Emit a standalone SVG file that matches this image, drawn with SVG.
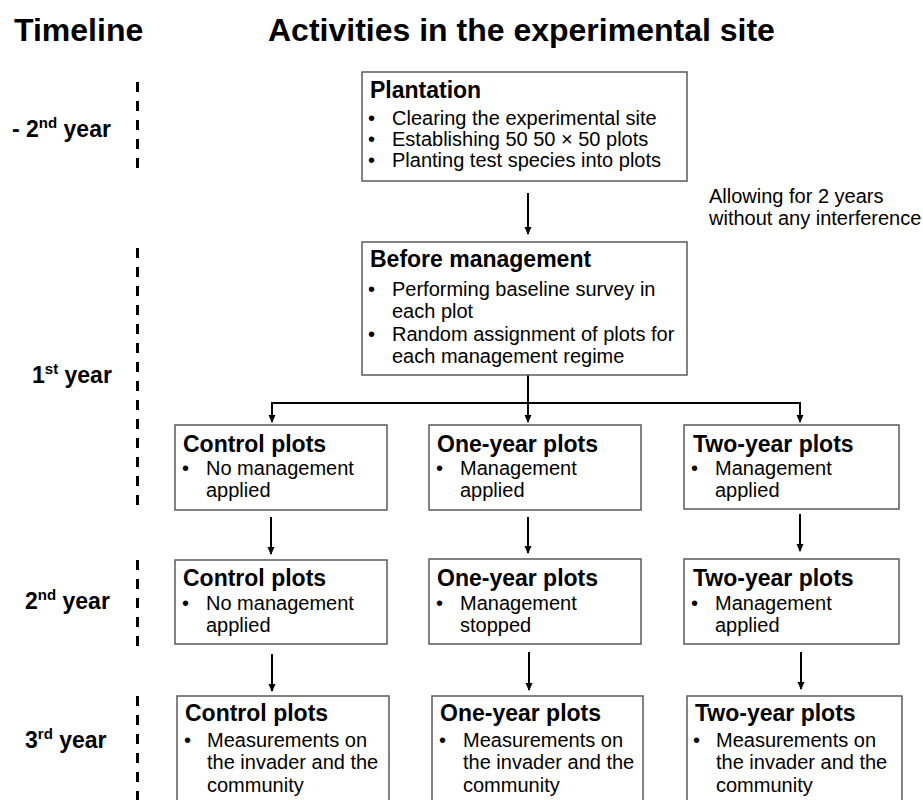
<svg xmlns="http://www.w3.org/2000/svg" width="923" height="800" viewBox="0 0 923 800">
<defs>
<style>
text{font-family:"Liberation Sans",Arial,sans-serif;fill:#000}
.hd{font-size:32px;font-weight:bold}
.yr{font-size:23px;font-weight:bold}
.sup{font-size:15px}
.tt{font-size:23px;font-weight:bold}
.bd{font-size:20px}
.box{fill:#fff;stroke:#595959;stroke-width:1.5}
.cn{fill:none;stroke:#000;stroke-width:2}
.tl{fill:none;stroke:#000;stroke-width:3;stroke-dasharray:10 9}
</style>
<marker id="ah" markerUnits="userSpaceOnUse" markerWidth="9" markerHeight="9" refX="7" refY="4" orient="auto">
<path d="M0,0.5 L8,4 L0,7.5 z" fill="#000"/>
</marker>
</defs>
<rect width="923" height="800" fill="#fff"/>

<g id="headings">
<text class="hd" x="14" y="41">Timeline</text>
<text class="hd" x="268" y="41">Activities in the experimental site</text>
</g>

<g id="timeline">
<line class="tl" x1="137.5" y1="82" x2="137.5" y2="168"/>
<line class="tl" x1="137.5" y1="248" x2="137.5" y2="509"/>
<line class="tl" x1="137.5" y1="560" x2="137.5" y2="647"/>
<line class="tl" x1="137.5" y1="696" x2="137.5" y2="800"/>
<text class="yr" x="12" y="137">- 2<tspan class="sup" dy="-9">nd</tspan><tspan dy="9"> year</tspan></text>
<text class="yr" x="32" y="383">1<tspan class="sup" dy="-9">st</tspan><tspan dy="9"> year</tspan></text>
<text class="yr" x="25" y="609">2<tspan class="sup" dy="-9">nd</tspan><tspan dy="9"> year</tspan></text>
<text class="yr" x="25" y="748">3<tspan class="sup" dy="-9">rd</tspan><tspan dy="9"> year</tspan></text>
</g>

<g id="connectors">
<line class="cn" x1="528" y1="193" x2="528" y2="234" marker-end="url(#ah)"/>
<line class="cn" x1="528" y1="375" x2="528" y2="422" marker-end="url(#ah)"/>
<polyline class="cn" points="272,422 272,403 800,403 800,422" marker-end="url(#ah)"/>
<line class="cn" x1="272" y1="403" x2="272" y2="422" marker-end="url(#ah)"/>
<line class="cn" x1="271" y1="517" x2="271" y2="554" marker-end="url(#ah)"/>
<line class="cn" x1="528" y1="517" x2="528" y2="553" marker-end="url(#ah)"/>
<line class="cn" x1="800" y1="514" x2="800" y2="551" marker-end="url(#ah)"/>
<line class="cn" x1="272" y1="654" x2="272" y2="691" marker-end="url(#ah)"/>
<line class="cn" x1="529" y1="652" x2="529" y2="690" marker-end="url(#ah)"/>
<line class="cn" x1="801" y1="652" x2="801" y2="689" marker-end="url(#ah)"/>
<text x="709" y="203" class="bd">Allowing for 2 years</text>
<text x="709" y="225" class="bd">without any interference</text>
</g>

<g id="plantation">
<rect class="box" x="362" y="72" width="325" height="109"/>
<text class="tt" x="370" y="98">Plantation</text>
<text class="bd" x="368" y="125">•</text><text class="bd" x="392" y="125">Clearing the experimental site</text>
<text class="bd" x="368" y="146">•</text><text class="bd" x="392" y="146">Establishing 50 50 × 50 plots</text>
<text class="bd" x="368" y="167">•</text><text class="bd" x="392" y="167">Planting test species into plots</text>
</g>

<g id="before-management">
<rect class="box" x="362" y="242" width="325" height="133"/>
<text class="tt" x="370" y="267">Before management</text>
<text class="bd" x="368" y="296">•</text><text class="bd" x="392" y="296">Performing baseline survey in</text>
<text class="bd" x="392" y="318">each plot</text>
<text class="bd" x="368" y="341">•</text><text class="bd" x="392" y="341">Random assignment of plots for</text>
<text class="bd" x="392" y="363">each management regime</text>
</g>

<g id="control-1">
<rect class="box" x="175" y="425" width="212" height="85"/>
<text class="tt" x="183" y="452">Control plots</text>
<text class="bd" x="182" y="475">•</text><text class="bd" x="206" y="475">No management</text>
<text class="bd" x="206" y="497">applied</text>
</g>
<g id="oneyear-1">
<rect class="box" x="429" y="425" width="212" height="85"/>
<text class="tt" x="437" y="452">One-year plots</text>
<text class="bd" x="436" y="475">•</text><text class="bd" x="460" y="475">Management</text>
<text class="bd" x="460" y="497">applied</text>
</g>
<g id="twoyear-1">
<rect class="box" x="684" y="425" width="215" height="84"/>
<text class="tt" x="693" y="452">Two-year plots</text>
<text class="bd" x="691" y="475">•</text><text class="bd" x="715" y="475">Management</text>
<text class="bd" x="715" y="497">applied</text>
</g>

<g id="control-2">
<rect class="box" x="175" y="560" width="212" height="84"/>
<text class="tt" x="183" y="586">Control plots</text>
<text class="bd" x="182" y="610">•</text><text class="bd" x="206" y="610">No management</text>
<text class="bd" x="206" y="632">applied</text>
</g>
<g id="oneyear-2">
<rect class="box" x="429" y="559" width="212" height="85"/>
<text class="tt" x="437" y="586">One-year plots</text>
<text class="bd" x="436" y="610">•</text><text class="bd" x="460" y="610">Management</text>
<text class="bd" x="460" y="632">stopped</text>
</g>
<g id="twoyear-2">
<rect class="box" x="684" y="559" width="215" height="85"/>
<text class="tt" x="693" y="586">Two-year plots</text>
<text class="bd" x="691" y="610">•</text><text class="bd" x="715" y="610">Management</text>
<text class="bd" x="715" y="632">applied</text>
</g>

<g id="control-3">
<rect class="box" x="177" y="696" width="212" height="115"/>
<text class="tt" x="185" y="721">Control plots</text>
<text class="bd" x="184" y="747">•</text><text class="bd" x="207" y="747">Measurements on</text>
<text class="bd" x="207" y="769">the invader and the</text>
<text class="bd" x="207" y="792">community</text>
</g>
<g id="oneyear-3">
<rect class="box" x="432" y="696" width="211" height="115"/>
<text class="tt" x="440" y="721">One-year plots</text>
<text class="bd" x="439" y="747">•</text><text class="bd" x="463" y="747">Measurements on</text>
<text class="bd" x="463" y="769">the invader and the</text>
<text class="bd" x="463" y="792">community</text>
</g>
<g id="twoyear-3">
<rect class="box" x="687" y="696" width="215" height="115"/>
<text class="tt" x="695" y="721">Two-year plots</text>
<text class="bd" x="693" y="747">•</text><text class="bd" x="716" y="747">Measurements on</text>
<text class="bd" x="716" y="769">the invader and the</text>
<text class="bd" x="716" y="792">community</text>
</g>
</svg>
